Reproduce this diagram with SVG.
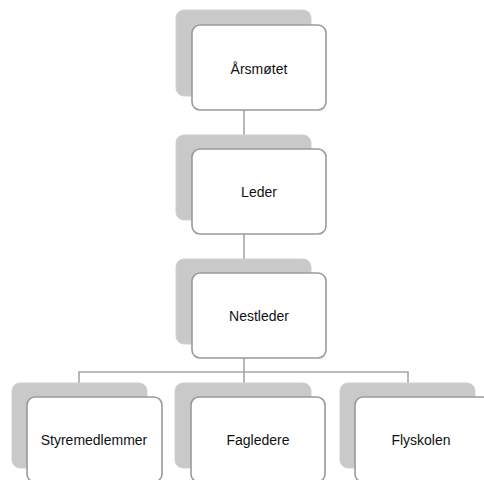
<svg xmlns="http://www.w3.org/2000/svg" width="484" height="480" viewBox="0 0 484 480">
<style>
.sh{fill:#c9c9c9;stroke:#d0d0d0;stroke-width:1}
.bx{fill:#ffffff;stroke:#9a9a9a;stroke-width:1.6}
.t{font-family:"Liberation Sans","DejaVu Sans",sans-serif;font-size:14px;fill:#111111;text-anchor:middle;dominant-baseline:central}
.c{fill:none;stroke:#a6a6a6;stroke-width:1.6}
</style>
<rect width="484" height="480" fill="#ffffff"/>
<g id="connectors">
<path class="c" d="M244 110V136M244 234V260M244 358V372M79 383V372H408V383M244 372V383"/>
</g>
<g id="arsmotet">
<rect class="sh" x="176" y="10" width="135" height="86" rx="8"/>
<rect class="bx" x="192" y="25" width="134" height="85" rx="8"/>
<text class="t" x="259" y="69">Årsmøtet</text>
</g>
<g id="leder">
<rect class="sh" x="176" y="135" width="135" height="85" rx="8"/>
<rect class="bx" x="192" y="149" width="134" height="85" rx="8"/>
<text class="t" x="259" y="192">Leder</text>
</g>
<g id="nestleder">
<rect class="sh" x="176" y="259" width="135" height="85" rx="8"/>
<rect class="bx" x="192" y="273" width="134" height="85" rx="8"/>
<text class="t" x="259" y="316">Nestleder</text>
</g>
<g id="styremedlemmer">
<rect class="sh" x="12" y="383" width="135" height="85" rx="8"/>
<rect class="bx" x="27" y="397" width="135" height="85" rx="8"/>
<text class="t" x="94" y="440">Styremedlemmer</text>
</g>
<g id="fagledere">
<rect class="sh" x="175" y="383" width="136" height="85" rx="8"/>
<rect class="bx" x="191" y="397" width="134" height="85" rx="8"/>
<text class="t" x="258" y="440">Fagledere</text>
</g>
<g id="flyskolen">
<rect class="sh" x="340" y="383" width="135" height="85" rx="8"/>
<rect class="bx" x="355" y="397" width="135" height="85" rx="8"/>
<text class="t" x="421" y="440">Flyskolen</text>
</g>
</svg>
